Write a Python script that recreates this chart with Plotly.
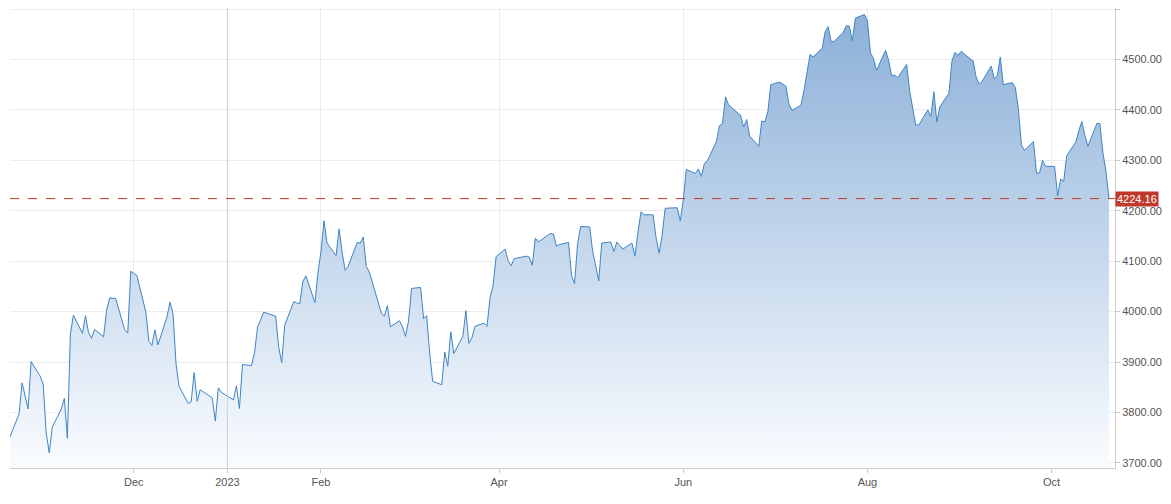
import plotly.graph_objects as go

dates = ["2022-10-21","2022-10-24","2022-10-25","2022-10-26","2022-10-27","2022-10-28","2022-10-31","2022-11-01","2022-11-02","2022-11-03","2022-11-04","2022-11-07","2022-11-08","2022-11-09","2022-11-10","2022-11-11","2022-11-14","2022-11-15","2022-11-16","2022-11-17","2022-11-18","2022-11-21","2022-11-22","2022-11-23","2022-11-25","2022-11-28","2022-11-29","2022-11-30","2022-12-01","2022-12-02","2022-12-05","2022-12-06","2022-12-07","2022-12-08","2022-12-09","2022-12-12","2022-12-13","2022-12-14","2022-12-15","2022-12-16","2022-12-19","2022-12-20","2022-12-21","2022-12-22","2022-12-23","2022-12-27","2022-12-28","2022-12-29","2022-12-30","2023-01-03","2023-01-04","2023-01-05","2023-01-06","2023-01-09","2023-01-10","2023-01-11","2023-01-12","2023-01-13","2023-01-17","2023-01-18","2023-01-19","2023-01-20","2023-01-23","2023-01-24","2023-01-25","2023-01-26","2023-01-27","2023-01-30","2023-01-31","2023-02-01","2023-02-02","2023-02-03","2023-02-06","2023-02-07","2023-02-08","2023-02-09","2023-02-10","2023-02-13","2023-02-14","2023-02-15","2023-02-16","2023-02-17","2023-02-21","2023-02-22","2023-02-23","2023-02-24","2023-02-27","2023-02-28","2023-03-01","2023-03-02","2023-03-03","2023-03-06","2023-03-07","2023-03-08","2023-03-09","2023-03-10","2023-03-13","2023-03-14","2023-03-15","2023-03-16","2023-03-17","2023-03-20","2023-03-21","2023-03-22","2023-03-23","2023-03-24","2023-03-27","2023-03-28","2023-03-29","2023-03-30","2023-03-31","2023-04-03","2023-04-04","2023-04-05","2023-04-06","2023-04-10","2023-04-11","2023-04-12","2023-04-13","2023-04-14","2023-04-17","2023-04-18","2023-04-19","2023-04-20","2023-04-21","2023-04-24","2023-04-25","2023-04-26","2023-04-27","2023-04-28","2023-05-01","2023-05-02","2023-05-03","2023-05-04","2023-05-05","2023-05-08","2023-05-09","2023-05-10","2023-05-11","2023-05-12","2023-05-15","2023-05-16","2023-05-17","2023-05-18","2023-05-19","2023-05-22","2023-05-23","2023-05-24","2023-05-25","2023-05-26","2023-05-30","2023-05-31","2023-06-01","2023-06-02","2023-06-05","2023-06-06","2023-06-07","2023-06-08","2023-06-09","2023-06-12","2023-06-13","2023-06-14","2023-06-15","2023-06-16","2023-06-20","2023-06-21","2023-06-22","2023-06-23","2023-06-26","2023-06-27","2023-06-28","2023-06-29","2023-06-30","2023-07-03","2023-07-05","2023-07-06","2023-07-07","2023-07-10","2023-07-11","2023-07-12","2023-07-13","2023-07-14","2023-07-17","2023-07-18","2023-07-19","2023-07-20","2023-07-21","2023-07-24","2023-07-25","2023-07-26","2023-07-27","2023-07-28","2023-07-31","2023-08-01","2023-08-02","2023-08-03","2023-08-04","2023-08-07","2023-08-08","2023-08-09","2023-08-10","2023-08-11","2023-08-14","2023-08-15","2023-08-16","2023-08-17","2023-08-18","2023-08-21","2023-08-22","2023-08-23","2023-08-24","2023-08-25","2023-08-28","2023-08-29","2023-08-30","2023-08-31","2023-09-01","2023-09-05","2023-09-06","2023-09-07","2023-09-08","2023-09-11","2023-09-12","2023-09-13","2023-09-14","2023-09-15","2023-09-18","2023-09-19","2023-09-20","2023-09-21","2023-09-22","2023-09-25","2023-09-26","2023-09-27","2023-09-28","2023-09-29","2023-10-02","2023-10-03","2023-10-04","2023-10-05","2023-10-06","2023-10-09","2023-10-10","2023-10-11","2023-10-12","2023-10-13","2023-10-16","2023-10-17","2023-10-18","2023-10-19","2023-10-20"]
values = [3752,3797,3859,3830,3807,3901,3872,3856,3759,3720,3771,3807,3828,3749,3956,3993,3957,3992,3959,3947,3965,3950,4003,4027,4026,3964,3958,4080,4076,4072,3999,3941,3933,3964,3934,3990,4019,3996,3896,3852,3818,3821,3879,3822,3845,3829,3783,3849,3840,3825,3853,3808,3895,3893,3919,3970,3983,3999,3991,3929,3899,3973,4020,4017,4016,4060,4071,4018,4077,4119,4180,4136,4111,4164,4118,4082,4090,4137,4136,4148,4090,4079,3997,3991,4012,3970,3982,3970,3951,3981,4046,4048,3986,3992,3918,3862,3855,3920,3892,3960,3917,3951,4002,3937,3948,3971,3977,3971,4028,4051,4109,4124,4101,4091,4105,4110,4108,4092,4146,4138,4151,4155,4154,4130,4133,4137,4071,4056,4135,4169,4168,4119,4091,4061,4136,4138,4119,4138,4131,4124,4136,4110,4158,4198,4192,4192,4146,4116,4151,4205,4206,4180,4221,4282,4274,4283,4268,4294,4299,4338,4369,4373,4426,4410,4389,4366,4381,4348,4328,4378,4376,4396,4450,4455,4447,4412,4399,4409,4439,4473,4510,4505,4522,4555,4565,4535,4536,4554,4567,4566,4537,4582,4589,4577,4513,4502,4478,4518,4499,4468,4469,4464,4490,4437,4404,4370,4370,4400,4387,4436,4376,4406,4433,4497,4514,4508,4516,4497,4465,4451,4457,4487,4462,4467,4505,4450,4454,4444,4402,4330,4320,4337,4274,4275,4300,4288,4288,4229,4263,4258,4309,4336,4358,4377,4350,4328,4373,4373,4315,4278,4224.16]
last_value = 4224.16
y_ticks = [3700, 3800, 3900, 4000, 4100, 4200, 4300, 4400, 4500, 4600]
x_tickvals = ["2022-12-01","2023-01-01","2023-02-01","2023-04-01","2023-06-01","2023-08-01","2023-10-01"]
x_ticktext = ["Dec","2023","Feb","Apr","Jun","Aug","Oct"]

ymin, ymax = 3690, 4602
fig = go.Figure()
fig.add_trace(go.Scatter(x=dates, y=[ymin]*len(dates), mode="lines",
                         line=dict(width=0), hoverinfo="skip", showlegend=False))
fig.add_trace(go.Scatter(x=dates, y=values, mode="lines", fill="tonexty",
                         line=dict(color="#3d85c6", width=1),
                         fillgradient=dict(type="vertical",
                                           colorscale=[[0, "rgba(250,252,255,1)"], [1, "rgba(140,176,216,1)"]]),
                         showlegend=False))
fig.add_vline(x="2023-01-01", line=dict(color="#d0d0d0", width=1))
fig.add_hline(y=last_value, line=dict(color="#c0392b", width=1, dash="dash"))
fig.add_annotation(x=1, xref="paper", y=last_value, yref="y", text=f"{last_value:.2f}",
                   xanchor="left", showarrow=False, bgcolor="#c0392b",
                   font=dict(color="white", size=11, family="Arial"), borderpad=1, xshift=0)
fig.update_layout(
    width=1163, height=496, margin=dict(l=2, r=56, t=0, b=36),
    plot_bgcolor="white", paper_bgcolor="white",
    font=dict(family="Arial", size=11, color="#555"),
    xaxis=dict(range=["2022-10-21", "2023-10-22"], tickvals=x_tickvals, ticktext=x_ticktext,
               showgrid=True, gridcolor="#ececec", showline=True, linecolor="#ccc",
               ticks="outside", tickcolor="#ccc", ticklen=4),
    yaxis=dict(range=[ymin, ymax], side="right", tickvals=y_ticks,
               ticktext=[f"{v:.2f}" for v in y_ticks], showgrid=True, gridcolor="#ececec",
               showline=True, linecolor="#ccc", ticks="outside", tickcolor="#ccc", ticklen=4),
)
fig.write_html("out.html")
